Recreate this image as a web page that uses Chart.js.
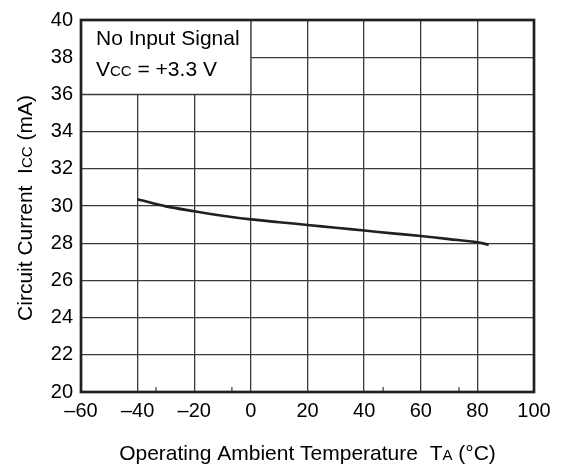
<!DOCTYPE html>
<html>
<head>
<meta charset="utf-8">
<script src="https://cdn.jsdelivr.net/npm/chart.js@4"></script>
<style>
  html, body { margin: 0; padding: 0; background: #fff; }
  #wrap { width: 561px; height: 469px; position: relative; }
</style>
</head>
<body>
<div id="wrap"><canvas id="iccChart"></canvas></div>
<script>
// curve: Icc (mA) vs ambient temperature (°C)
const tempC = [-40, -30, -20, -10, 0, 10, 20, 30, 40, 50, 60, 70, 80, 84];
const iccMa = [30.36, 29.98, 29.72, 29.48, 29.28, 29.13, 28.98, 28.83, 28.68, 28.53, 28.39, 28.22, 28.05, 27.92];

const xTicks = [-60, -40, -20, 0, 20, 40, 60, 80, 100];
const yTicks = [20, 22, 24, 26, 28, 30, 32, 34, 36, 38, 40];
// small stray tick marks on the bottom axis
const minorTicks = [-33.5, -6.7, 46.7, 73.5];

const INK = "#231f20";
const GRID = "#3a3a3a";
const FONT = "'Liberation Sans', Arial, sans-serif";

// draws text pieces in sequence, some of them smaller (subscript-like)
function drawRuns(ctx, runs, x, y, align) {
  let total = 0;
  runs.forEach(r => {
    ctx.font = r.size + "px " + FONT;
    r.w = ctx.measureText(r.text).width;
    total += r.w;
  });
  let cx = align === "center" ? x - total / 2 : x;
  runs.forEach(r => {
    ctx.font = r.size + "px " + FONT;
    ctx.fillText(r.text, cx, y);
    cx += r.w;
  });
}

const framePlugin = {
  id: "frame",
  beforeDatasetsDraw(chart) {
    const { ctx, chartArea: a, scales } = chart;
    const x0 = scales.x.getPixelForValue(0);
    const y36 = scales.y.getPixelForValue(36);
    ctx.save();
    // note box in the upper left corner
    ctx.fillStyle = "#fff";
    ctx.fillRect(a.left, a.top, x0 - a.left, y36 - a.top);
    ctx.strokeStyle = GRID;
    ctx.lineWidth = 1.3;
    ctx.beginPath();
    ctx.moveTo(x0, a.top);
    ctx.lineTo(x0, y36);
    ctx.lineTo(a.left, y36);
    ctx.stroke();

    ctx.fillStyle = "#000";
    ctx.textBaseline = "alphabetic";
    ctx.textAlign = "left";
    drawRuns(ctx, [{ text: "No Input Signal", size: 21 }], a.left + 15, 45, "left");
    drawRuns(ctx, [
      { text: "V", size: 21 },
      { text: "CC", size: 15 },
      { text: " = +3.3 V", size: 21 },
    ], a.left + 15, 76, "left");
    ctx.restore();
  },
  afterDraw(chart) {
    const { ctx, chartArea: a, scales } = chart;
    ctx.save();
    // minor ticks
    ctx.strokeStyle = GRID;
    ctx.lineWidth = 1.2;
    minorTicks.forEach(v => {
      const px = scales.x.getPixelForValue(v);
      ctx.beginPath();
      ctx.moveTo(px, a.bottom);
      ctx.lineTo(px, a.bottom - 5);
      ctx.stroke();
    });
    // heavy frame
    ctx.strokeStyle = INK;
    ctx.lineWidth = 2.7;
    ctx.strokeRect(a.left, a.top, a.right - a.left, a.bottom - a.top);

    // axis titles
    ctx.fillStyle = "#000";
    ctx.textAlign = "left";
    ctx.textBaseline = "alphabetic";
    drawRuns(ctx, [
      { text: "Operating Ambient Temperature  T", size: 21 },
      { text: "A", size: 15 },
      { text: " (°C)", size: 21 },
    ], (a.left + a.right) / 2, 460, "center");

    ctx.translate(32, (a.top + a.bottom) / 2 + 2);
    ctx.rotate(-Math.PI / 2);
    drawRuns(ctx, [
      { text: "Circuit Current  I", size: 21 },
      { text: "CC", size: 15 },
      { text: " (mA)", size: 21 },
    ], 0, 0, "center");
    ctx.restore();
  },
};

const tickFont = { family: FONT, size: 20 };

new Chart(document.getElementById("iccChart"), {
  type: "line",
  data: {
    datasets: [{
      data: tempC.map((t, i) => ({ x: t, y: iccMa[i] })),
      borderColor: INK,
      borderWidth: 2.6,
      pointRadius: 0,
      tension: 0.3,
      fill: false,
    }],
  },
  options: {
    responsive: true,
    maintainAspectRatio: false,
    animation: false,
    layout: { padding: { left: 0, right: 27, top: 14, bottom: 0 } },
    plugins: { legend: { display: false }, tooltip: { enabled: false } },
    scales: {
      x: {
        type: "linear",
        min: -60,
        max: 100,
        afterBuildTicks: s => { s.ticks = xTicks.map(v => ({ value: v })); },
        afterFit: s => { s.height = 77; },
        grid: { color: GRID, lineWidth: 1.3, drawTicks: false },
        border: { display: false },
        ticks: {
          color: "#000",
          font: tickFont,
          padding: 7,
          maxRotation: 0,
          autoSkip: false,
          callback: v => (v < 0 ? "\u2013" + Math.abs(v) : String(v)),
        },
      },
      y: {
        min: 20,
        max: 40,
        afterBuildTicks: s => { s.ticks = yTicks.map(v => ({ value: v })); },
        afterFit: s => { s.width = 81; },
        grid: { color: GRID, lineWidth: 1.3, drawTicks: false },
        border: { display: false },
        ticks: { color: "#000", font: tickFont, padding: 8, autoSkip: false },
      },
    },
  },
  plugins: [framePlugin],
});
</script>
</body>
</html>
